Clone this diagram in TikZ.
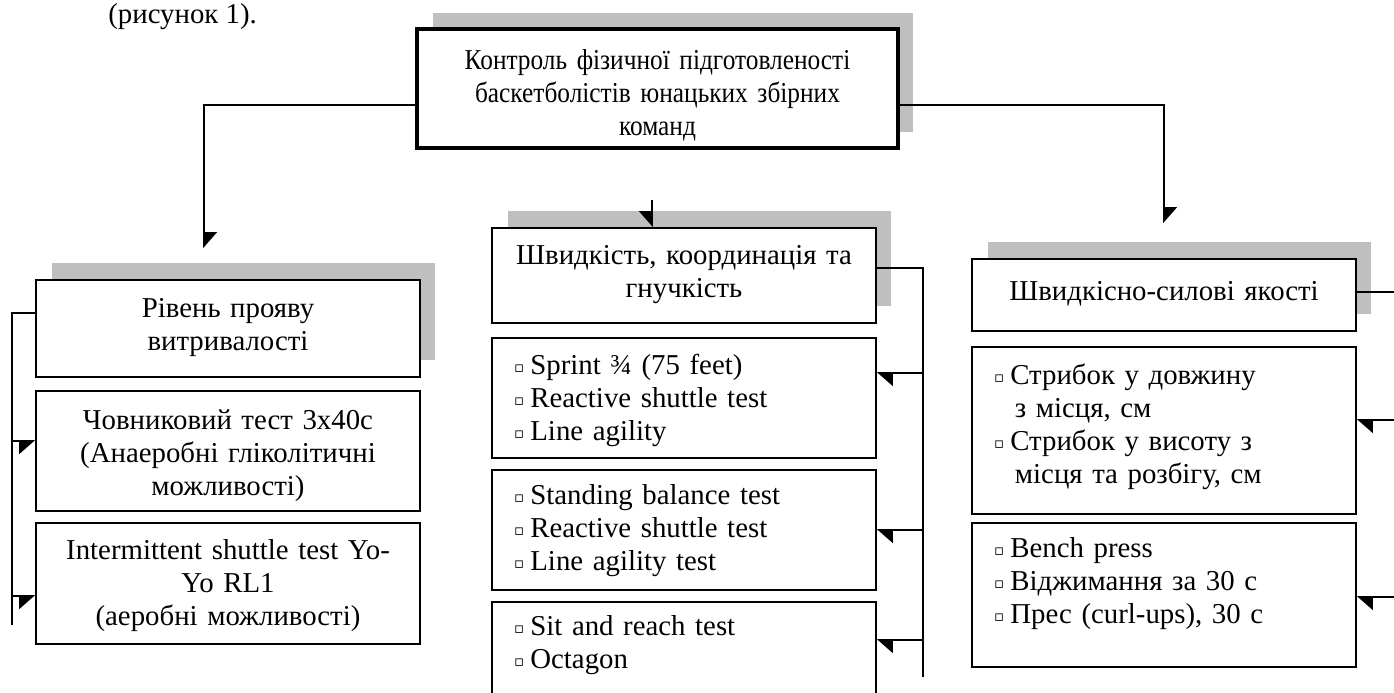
\documentclass[tikz,border=0pt]{standalone}
\usepackage{fontspec}
\setmainfont{Liberation Serif}
\newfontfamily\narrowfont{Liberation Serif}[FakeStretch=0.88]
\newfontfamily\symbfont{DejaVu Sans}
\usetikzlibrary{arrows.meta}
\usetikzlibrary{shadows}
\definecolor{shadowgray}{RGB}{191,191,191}
\newcommand{\blt}{\makebox[7.6pt][l]{\hspace*{-1.6pt}\raisebox{1.2pt}{\symbfont\fontsize{8.5}{8.5}\selectfont ▫}}}

\begin{document}
\begin{tikzpicture}[x=0.02cm, y=-0.02cm,
    txt/.style={font=\fontsize{16.4}{18.8}\selectfont},
    box/.style={txt, draw, line width=1.1pt, fill=white, anchor=north, inner xsep=0.2cm, inner ysep=0pt,
        text width=7.28cm, align=center, text height=0.74cm},
    listbox/.style={box, inner xsep=0.5cm, text width=6.68cm, align=left},
    shadowed/.style={drop shadow={shadow xshift=0.31cm, shadow yshift=0.33cm, fill=shadowgray, opacity=1}},
    link/.style={line width=0.9pt},
    arrl/.style={link, -{Triangle[harpoon, length=0.3cm, width=0.52cm]}},
    arrr/.style={link, -{Triangle[harpoon, swap, length=0.3cm, width=0.52cm]}}]

    \useasboundingbox (0,0) rectangle (1394,693);
    \clip (0,0) rectangle (1394,693);

    \node[txt, anchor=base west, inner sep=0pt] (fig) at (108,24) {(рисунок 1).};

    \node[box, shadowed, line width=2.5pt, text width=9.22cm, text height=0.8cm, text depth=1.58cm,
        font=\narrowfont\fontsize{16.4}{18.8}\selectfont] (ctrl) at (657.5,27)
        {Контроль фізичної підготовленості\\баскетболістів юнацьких збірних\\команд};

    \node[box, shadowed, text height=0.75cm, text depth=1.19cm] (l1) at (228,279) {Рівень прояву\\витривалості};
    \node[box, text height=0.77cm, text depth=1.63cm] (l2) at (228,390) {Човниковий тест 3х40с\\(Анаеробні гліколітичні\\можливості)};
    \node[box, text height=0.73cm, text depth=1.69cm] (l3) at (228,522) {Intermittent shuttle test Yo-\\Yo RL1\\(аеробні можливості)};

    \node[box, shadowed, text height=0.73cm, text depth=1.17cm] (m1) at (684,227) {Швидкість, координація та\\гнучкість};
    \node[listbox, text height=0.73cm, text depth=1.67cm] (m2) at (684,337) {\blt Sprint ¾ (75 feet)\\\blt Reactive shuttle test\\\blt Line agility};
    \node[listbox, text height=0.69cm, text depth=1.71cm] (m3) at (684,469) {\blt Standing balance test\\\blt Reactive shuttle test\\\blt Line agility test};
    \node[listbox, text height=0.67cm, text depth=1.73cm] (m4) at (684,601) {\blt Sit and reach test\\\blt Octagon};

    \node[box, shadowed, text height=0.83cm, text depth=0.61cm] (r1) at (1164,258) {Швидкісно-силові якості};
    \node[listbox, text height=0.75cm, text depth=2.59cm] (r2) at (1164,346)
        {\blt Стрибок у довжину\\\hspace*{10.2pt}з місця, см\\\blt Стрибок у висоту з\\\hspace*{10.2pt}місця та розбігу, см};
    \node[listbox, text height=0.69cm, text depth=2.19cm] (r3) at (1164,522)
        {\blt Bench press\\\blt Віджимання за 30 с\\\blt Прес (curl-ups), 30 с};

    \coordinate (lend) at (204,248);
    \coordinate (rend) at (1164,223);
    \coordinate (mtop) at (652,200);
    \coordinate (lbar) at (12,625);
    \coordinate (mbar) at (923,677);
    \coordinate (rbar) at (1420,600);

    \draw[arrl] ([yshift=-0.33cm]ctrl.west) -| (lend);
    \draw[arrl] ([yshift=-0.33cm]ctrl.east) -| (rend);
    \draw[arrr] (mtop) -- (mtop |- m1.north);

    \draw[link] ([yshift=-0.68cm]l1.north west) -| (lbar);
    \draw[arrr] ([yshift=-1.02cm]l2.north west -| lbar) -- ([yshift=-1.02cm]l2.north west);
    \draw[arrr] ([yshift=-1.48cm]l3.north west -| lbar) -- ([yshift=-1.48cm]l3.north west);

    \draw[link] ([yshift=-0.82cm]m1.north east) -| (mbar);
    \draw[arrl] ([yshift=-0.72cm]m2.north east -| mbar) -- ([yshift=-0.72cm]m2.north east);
    \draw[arrl] ([yshift=-1.22cm]m3.north east -| mbar) -- ([yshift=-1.22cm]m3.north east);
    \draw[arrl] ([yshift=-0.78cm]m4.north east -| mbar) -- ([yshift=-0.78cm]m4.north east);

    \draw[link] ([yshift=-0.68cm]r1.north east) -| (rbar);
    \draw[arrl] ([yshift=-1.48cm]r2.north east -| rbar) -- ([yshift=-1.48cm]r2.north east);
    \draw[arrl] ([yshift=-1.5cm]r3.north east -| rbar) -- ([yshift=-1.5cm]r3.north east);

\end{tikzpicture}
\end{document}
